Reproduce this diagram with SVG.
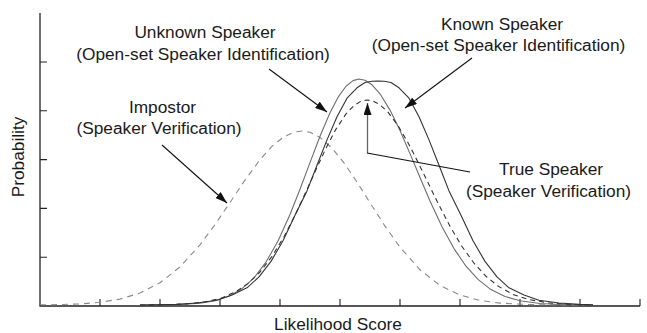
<svg xmlns="http://www.w3.org/2000/svg" width="647" height="333" viewBox="0 0 647 333">
<style>
text{font-family:"Liberation Sans",Arial,sans-serif;font-size:17.3px;fill:#1a1a1a}
.ax{stroke:#222;stroke-width:1.3;fill:none}
.tk{stroke:#222;stroke-width:1.1}
.cv{fill:none;stroke-width:1.1;stroke-linejoin:round}
.arr{stroke:#111;stroke-width:1.1;fill:none}
</style>
<defs>
<marker id="ah" viewBox="0 0 12 8" refX="12" refY="4" markerWidth="12" markerHeight="8" markerUnits="userSpaceOnUse" orient="auto">
<path d="M0,0 L12,4 L0,8 Z" fill="#111"/>
</marker>
</defs>
<rect width="647" height="333" fill="#fff"/>
<g id="axes">
<path class="ax" d="M40,13 V306 H640"/>
<path class="tk" d="M40,62 H47 M40,110.8 H47 M40,159.6 H47 M40,208.4 H47 M40,257.2 H47 M100,306 V299 M160,306 V299 M220,306 V299 M280,306 V299 M340,306 V299 M400,306 V299 M460,306 V299 M520,306 V299 M580,306 V299 M640,306 V299"/>
<text x="338" y="330" text-anchor="middle">Likelihood Score</text>
<text transform="translate(24,157) rotate(-90)" text-anchor="middle">Probability</text>
</g>
<g id="curves">
<path id="impostor" class="cv" stroke="#8a8a8a" stroke-dasharray="6 5" d="M40,304.8 L60,304.6 L80,303.9 L100,302.3 L120,299.1 L140,293 L160,282.8 L180,266.9 L200,244.8 L215,224.6 L230,202.5 L245,180.1 L260,159.7 L272,146.3 L284,136.7 L294,132.1 L302,131 L310,132.3 L320,137.4 L332,148.1 L344,162.9 L356,180.5 L370,202.7 L385,226.1 L400,247.2 L420,269.8 L440,285.4 L460,295.1 L480,300.4 L500,303.1 L530,304.6 L560,304.9 L593,305"/>
<path id="unknown" class="cv" stroke="#6e6e6e" d="M140,305 L160,304.9 L180,304.5 L200,303.3 L215,300.8 L230,295.8 L242,288.7 L254,277.9 L266,262.1 L278,241 L290,214.5 L300,189.2 L310,162.6 L320,136.3 L330,112.7 L338,97.4 L346,86.2 L353,80.6 L359,79 L365,80.2 L372,84.8 L380,93.8 L390,110.1 L400,130.5 L410,153.6 L420,177.5 L430,201 L442,226.7 L454,248.6 L466,266.2 L478,279.4 L490,288.9 L505,296.5 L520,300.8 L540,303.5 L560,304.5 L593,305"/>
<path id="known" class="cv" stroke="#333" d="M140,305 L157,304.85 L177,304.4 L197,303 L217,300.3 L232,295 L247,287.8 L259,276.9 L271,261.4 L283,240.8 L295,215.2 L307,190.9 L317,165.3 L327,139.9 L337,116.8 L347,98.2 L357,87.8 L365,82.5 L372,81.3 L378,81 L384,81.3 L391,82.5 L399,87.8 L409,98.2 L419,116.8 L429,139.9 L439,165.3 L449,190.9 L461,215.2 L473,240.8 L485,261.4 L497,276.9 L509,287.8 L524,295 L539,300.3 L559,303 L579,304.4 L593,304.9"/>
<path id="true" class="cv" stroke="#333" stroke-dasharray="5 4" d="M140,305 L166,304.7 L186,303.9 L206,301.7 L221,298.2 L236,291.7 L248,283.6 L260,272 L272,256.4 L284,236.7 L296,213.2 L306,191.7 L316,169.6 L326,148.2 L336,129.1 L346,113.9 L354,105.5 L361,101.2 L367,100 L373,101 L380,104.8 L388,112.2 L398,125.6 L408,142.7 L418,162.2 L428,182.7 L438,203.2 L450,226.3 L462,246.5 L474,263.2 L486,276.3 L498,286.1 L513,294.4 L528,299.4 L548,302.8 L568,304.25 L593,305"/>
</g>
<g id="connectors">
<line class="arr" x1="162" y1="145" x2="227" y2="203" marker-end="url(#ah)"/>
<line class="arr" x1="269" y1="69" x2="327" y2="112" marker-end="url(#ah)"/>
<line class="arr" x1="472" y1="58" x2="405" y2="108" marker-end="url(#ah)"/>
<line x1="367.5" y1="153" x2="367.5" y2="103" stroke="#666" stroke-width="1.3" marker-end="url(#ah)"/>
<line class="arr" x1="367" y1="153" x2="470" y2="172"/>
</g>
<g id="label-unknown">
<text x="205" y="38" text-anchor="middle">Unknown Speaker</text>
<text x="203" y="60" text-anchor="middle">(Open-set Speaker Identification)</text>
</g>
<g id="label-known">
<text x="502" y="30" text-anchor="middle">Known Speaker</text>
<text x="498.5" y="51" text-anchor="middle">(Open-set Speaker Identification)</text>
</g>
<g id="label-impostor">
<text x="162.5" y="113" text-anchor="middle">Impostor</text>
<text x="159" y="134" text-anchor="middle">(Speaker Verification)</text>
</g>
<g id="label-true">
<text x="551" y="175" text-anchor="middle">True Speaker</text>
<text x="548.5" y="197" text-anchor="middle">(Speaker Verification)</text>
</g>
</svg>
